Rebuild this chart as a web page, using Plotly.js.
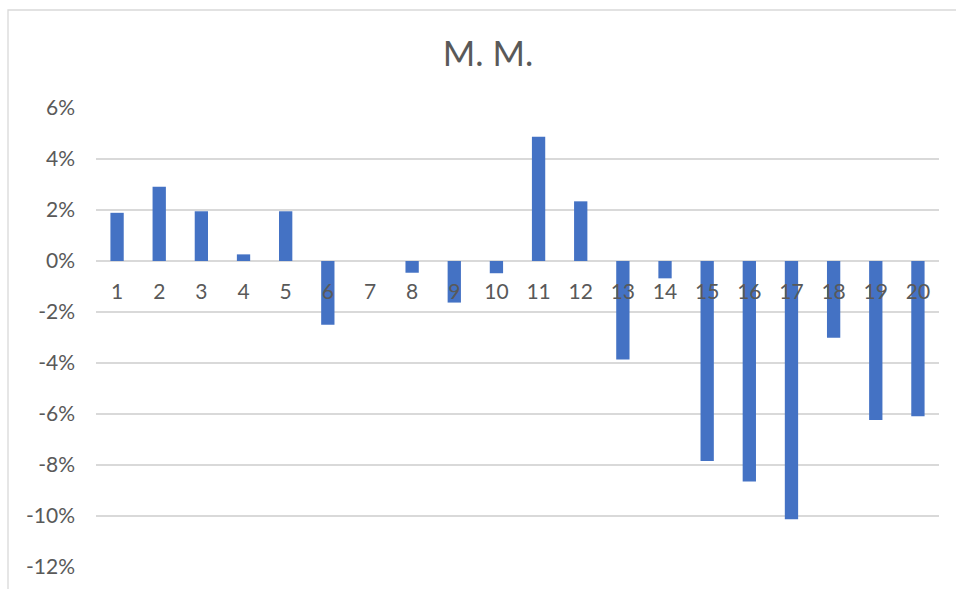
<!DOCTYPE html>
<html>
<head>
<meta charset="utf-8">
<script src="https://cdn.plot.ly/plotly-3.0.1.min.js"></script>
<style>html,body{margin:0;padding:0;background:#fff;}#chart{width:956px;height:589px;}</style>
</head>
<body>
<div id="chart"></div>
<script>
const categories = [1,2,3,4,5,6,7,8,9,10,11,12,13,14,15,16,17,18,19,20];
const values = [0.0189,0.0291,0.0195,0.0026,0.0195,-0.0250,0.0000,-0.0046,-0.0163,-0.0048,0.0487,0.0234,-0.0386,-0.0068,-0.0784,-0.0865,-0.1013,-0.0301,-0.0624,-0.0609];
const yTicks = [0.06,0.04,0.02,0,-0.02,-0.04,-0.06,-0.08,-0.10,-0.12];
const yTickText = ["6%","4%","2%","0%","-2%","-4%","-6%","-8%","-10%","-12%"];
const titleText = "M. M.";

const fontFam = "Lato, 'Open Sans', sans-serif";
const gray = "#595959";

Plotly.newPlot("chart", [{
  type: "bar",
  x: categories,
  y: values,
  width: 0.316,
  marker: {color: "#4472C4"},
  hoverinfo: "none"
}], {
  width: 956,
  height: 589,
  margin: {l: 96, r: 17, t: 108, b: 22},
  paper_bgcolor: "#ffffff",
  plot_bgcolor: "#ffffff",
  showlegend: false,
  title: {
    text: titleText,
    font: {family: fontFam, size: 35, color: gray},
    x: 0.5105, xref: "container", xanchor: "center",
    y: 1 - 54/589, yref: "container", yanchor: "middle"
  },
  xaxis: {
    range: [0.5, 20.5],
    tickvals: categories,
    ticktext: categories.map(String),
    anchor: "free",
    position: 12/18,
    showgrid: false,
    zeroline: false,
    showline: false,
    ticks: "",
    ticklabelstandoff: 16,
    tickfont: {family: fontFam, size: 21, color: gray},
    fixedrange: true
  },
  yaxis: {
    range: [-0.12, 0.06],
    tickvals: yTicks,
    ticktext: yTickText,
    showgrid: true,
    gridcolor: "#d9d9d9",
    gridwidth: 1.3,
    zeroline: false,
    showline: false,
    ticks: "",
    ticklabelstandoff: 20,
    tickfont: {family: fontFam, size: 21, color: gray},
    fixedrange: true
  },
  shapes: [{
    type: "rect", xref: "paper", yref: "paper",
    x0: (8-96)/843, x1: 1.2, y0: -0.2, y1: (567-10)/459,
    line: {color: "#d9d9d9", width: 1.3},
    fillcolor: "rgba(0,0,0,0)",
    layer: "below"
  }]
}, {staticPlot: true});
</script>
</body>
</html>
